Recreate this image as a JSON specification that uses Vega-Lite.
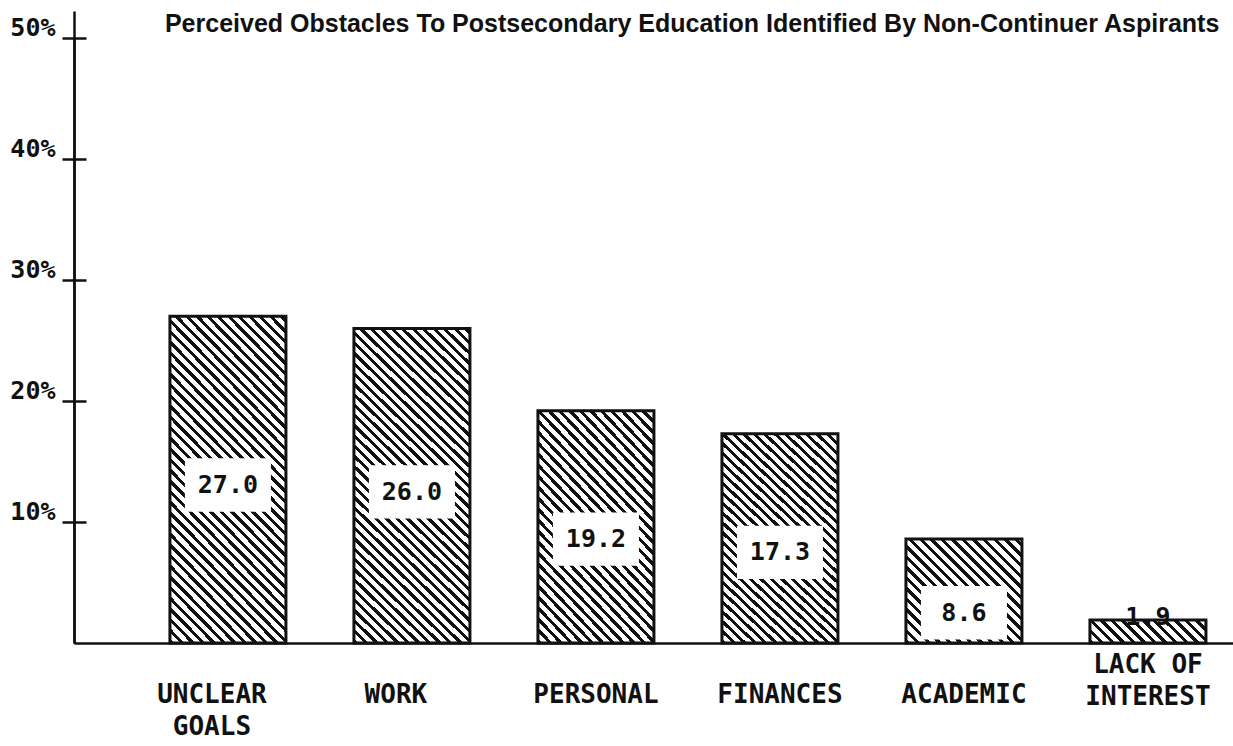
{
  "$schema": "https://vega.github.io/schema/vega-lite/v6.json",
  "width": 1159,
  "height": 605,
  "autosize": {"type": "none"},
  "padding": {"left": 74, "top": 38, "right": 0, "bottom": 103},
  "background": "white",
  "config": {"view": {"stroke": null}, "axis": {"grid": false}},
  "data": {"values": [
    {"obstacle": "UNCLEAR GOALS", "pct": 27.0},
    {"obstacle": "WORK", "pct": 26.0},
    {"obstacle": "PERSONAL", "pct": 19.2},
    {"obstacle": "FINANCES", "pct": 17.3},
    {"obstacle": "ACADEMIC", "pct": 8.6},
    {"obstacle": "LACK OF INTEREST", "pct": 1.9}
  ]},
  "encoding": {
    "x": {
      "field": "obstacle", "type": "nominal",
      "scale": {"domain": ["UNCLEAR GOALS", "WORK", "PERSONAL", "FINANCES", "ACADEMIC", "LACK OF INTEREST"], "paddingInner": 0.3696, "paddingOuter": 0.3342, "align": 0.78},
      "axis": {
        "title": null, "domainColor": "#111", "domainWidth": 2.5, "ticks": false,
        "labelPadding": {"condition": {"test": "datum.value === 'LACK OF INTEREST'", "value": 8}, "value": 38},
        "labelOffset": {"condition": {"test": "datum.value === 'UNCLEAR GOALS' || datum.value === 'WORK'", "value": -16}, "value": 0},
        "labelFont": "DejaVu Sans Mono", "labelFontWeight": "bold", "labelFontSize": 26, "labelColor": "#111",
        "labelAngle": 0, "labelLineHeight": 32, "labelOverlap": false, "labelLimit": 300, "labelBaseline": "top",
        "labelExpr": "datum.value === 'UNCLEAR GOALS' ? ['UNCLEAR','GOALS'] : datum.value === 'LACK OF INTEREST' ? ['LACK OF','INTEREST'] : datum.label"
      }
    }
  },
  "layer": [
    {
      "encoding": {
        "y": {
          "field": "pct", "type": "quantitative", "scale": {"domain": [0, 50], "nice": false},
          "axis": {
            "values": [10, 20, 30, 40, 50], "labelExpr": "datum.value + '%'", "title": null,
            "domainColor": "#111", "domainWidth": 2.5, "tickColor": "#111", "tickWidth": 2.5, "tickSize": 12,
            "labelPadding": 7, "labelFont": "DejaVu Sans Mono", "labelFontWeight": "bold", "labelFontSize": 25,
            "labelColor": "#111", "labelBaseline": "alphabetic", "labelOffset": -3
          }
        }
      },
      "layer": [
        {
          "transform": [{"filter": {"field": "obstacle", "oneOf": ["UNCLEAR GOALS", "WORK"]}}],
          "mark": {"type": "bar", "stroke": "#111", "strokeWidth": 3, "fill": {"gradient": "linear", "x1": 0, "y1": 1, "x2": 0.435, "y2": -0.204, "stops": [
            {"offset":0,"color":"#111"},{"offset":0.01,"color":"#111"},{"offset":0.01,"color":"#fff"},{"offset":0.024,"color":"#fff"},
            {"offset":0.024,"color":"#111"},{"offset":0.034,"color":"#111"},{"offset":0.034,"color":"#fff"},{"offset":0.048,"color":"#fff"},
            {"offset":0.048,"color":"#111"},{"offset":0.058,"color":"#111"},{"offset":0.058,"color":"#fff"},{"offset":0.072,"color":"#fff"},
            {"offset":0.072,"color":"#111"},{"offset":0.082,"color":"#111"},{"offset":0.082,"color":"#fff"},{"offset":0.096,"color":"#fff"},
            {"offset":0.096,"color":"#111"},{"offset":0.106,"color":"#111"},{"offset":0.106,"color":"#fff"},{"offset":0.12,"color":"#fff"},
            {"offset":0.12,"color":"#111"},{"offset":0.13,"color":"#111"},{"offset":0.13,"color":"#fff"},{"offset":0.144,"color":"#fff"},
            {"offset":0.144,"color":"#111"},{"offset":0.154,"color":"#111"},{"offset":0.154,"color":"#fff"},{"offset":0.168,"color":"#fff"},
            {"offset":0.168,"color":"#111"},{"offset":0.178,"color":"#111"},{"offset":0.178,"color":"#fff"},{"offset":0.192,"color":"#fff"},
            {"offset":0.192,"color":"#111"},{"offset":0.202,"color":"#111"},{"offset":0.202,"color":"#fff"},{"offset":0.216,"color":"#fff"},
            {"offset":0.216,"color":"#111"},{"offset":0.226,"color":"#111"},{"offset":0.226,"color":"#fff"},{"offset":0.24,"color":"#fff"},
            {"offset":0.24,"color":"#111"},{"offset":0.25,"color":"#111"},{"offset":0.25,"color":"#fff"},{"offset":0.264,"color":"#fff"},
            {"offset":0.264,"color":"#111"},{"offset":0.274,"color":"#111"},{"offset":0.274,"color":"#fff"},{"offset":0.288,"color":"#fff"},
            {"offset":0.288,"color":"#111"},{"offset":0.298,"color":"#111"},{"offset":0.298,"color":"#fff"},{"offset":0.312,"color":"#fff"},
            {"offset":0.312,"color":"#111"},{"offset":0.322,"color":"#111"},{"offset":0.322,"color":"#fff"},{"offset":0.336,"color":"#fff"},
            {"offset":0.336,"color":"#111"},{"offset":0.346,"color":"#111"},{"offset":0.346,"color":"#fff"},{"offset":0.36,"color":"#fff"},
            {"offset":0.36,"color":"#111"},{"offset":0.37,"color":"#111"},{"offset":0.37,"color":"#fff"},{"offset":0.384,"color":"#fff"},
            {"offset":0.384,"color":"#111"},{"offset":0.394,"color":"#111"},{"offset":0.394,"color":"#fff"},{"offset":0.408,"color":"#fff"},
            {"offset":0.408,"color":"#111"},{"offset":0.418,"color":"#111"},{"offset":0.418,"color":"#fff"},{"offset":0.432,"color":"#fff"},
            {"offset":0.432,"color":"#111"},{"offset":0.442,"color":"#111"},{"offset":0.442,"color":"#fff"},{"offset":0.456,"color":"#fff"},
            {"offset":0.456,"color":"#111"},{"offset":0.466,"color":"#111"},{"offset":0.466,"color":"#fff"},{"offset":0.48,"color":"#fff"},
            {"offset":0.48,"color":"#111"},{"offset":0.49,"color":"#111"},{"offset":0.49,"color":"#fff"},{"offset":0.504,"color":"#fff"},
            {"offset":0.504,"color":"#111"},{"offset":0.514,"color":"#111"},{"offset":0.514,"color":"#fff"},{"offset":0.528,"color":"#fff"},
            {"offset":0.528,"color":"#111"},{"offset":0.538,"color":"#111"},{"offset":0.538,"color":"#fff"},{"offset":0.552,"color":"#fff"},
            {"offset":0.552,"color":"#111"},{"offset":0.562,"color":"#111"},{"offset":0.562,"color":"#fff"},{"offset":0.576,"color":"#fff"},
            {"offset":0.576,"color":"#111"},{"offset":0.586,"color":"#111"},{"offset":0.586,"color":"#fff"},{"offset":0.6,"color":"#fff"},
            {"offset":0.6,"color":"#111"},{"offset":0.61,"color":"#111"},{"offset":0.61,"color":"#fff"},{"offset":0.624,"color":"#fff"},
            {"offset":0.624,"color":"#111"},{"offset":0.634,"color":"#111"},{"offset":0.634,"color":"#fff"},{"offset":0.648,"color":"#fff"},
            {"offset":0.648,"color":"#111"},{"offset":0.658,"color":"#111"},{"offset":0.658,"color":"#fff"},{"offset":0.672,"color":"#fff"},
            {"offset":0.672,"color":"#111"},{"offset":0.682,"color":"#111"},{"offset":0.682,"color":"#fff"},{"offset":0.696,"color":"#fff"},
            {"offset":0.696,"color":"#111"},{"offset":0.706,"color":"#111"},{"offset":0.706,"color":"#fff"},{"offset":0.72,"color":"#fff"},
            {"offset":0.72,"color":"#111"},{"offset":0.73,"color":"#111"},{"offset":0.73,"color":"#fff"},{"offset":0.744,"color":"#fff"},
            {"offset":0.744,"color":"#111"},{"offset":0.754,"color":"#111"},{"offset":0.754,"color":"#fff"},{"offset":0.768,"color":"#fff"},
            {"offset":0.768,"color":"#111"},{"offset":0.778,"color":"#111"},{"offset":0.778,"color":"#fff"},{"offset":0.792,"color":"#fff"},
            {"offset":0.792,"color":"#111"},{"offset":0.802,"color":"#111"},{"offset":0.802,"color":"#fff"},{"offset":0.816,"color":"#fff"},
            {"offset":0.816,"color":"#111"},{"offset":0.826,"color":"#111"},{"offset":0.826,"color":"#fff"},{"offset":0.84,"color":"#fff"},
            {"offset":0.84,"color":"#111"},{"offset":0.85,"color":"#111"},{"offset":0.85,"color":"#fff"},{"offset":0.864,"color":"#fff"},
            {"offset":0.864,"color":"#111"},{"offset":0.874,"color":"#111"},{"offset":0.874,"color":"#fff"},{"offset":0.888,"color":"#fff"},
            {"offset":0.888,"color":"#111"},{"offset":0.898,"color":"#111"},{"offset":0.898,"color":"#fff"},{"offset":0.912,"color":"#fff"},
            {"offset":0.912,"color":"#111"},{"offset":0.922,"color":"#111"},{"offset":0.922,"color":"#fff"},{"offset":0.936,"color":"#fff"},
            {"offset":0.936,"color":"#111"},{"offset":0.946,"color":"#111"},{"offset":0.946,"color":"#fff"},{"offset":0.96,"color":"#fff"},
            {"offset":0.96,"color":"#111"},{"offset":0.97,"color":"#111"},{"offset":0.97,"color":"#fff"},{"offset":0.984,"color":"#fff"},
            {"offset":0.984,"color":"#111"},{"offset":0.994,"color":"#111"},{"offset":0.994,"color":"#fff"},{"offset":1,"color":"#fff"}
          ]}}
        },
        {
          "transform": [{"filter": {"field": "obstacle", "oneOf": ["PERSONAL", "FINANCES"]}}],
          "mark": {"type": "bar", "stroke": "#111", "strokeWidth": 3, "fill": {"gradient": "linear", "x1": 0, "y1": 1, "x2": 0.628, "y2": -0.195, "stops": [
            {"offset":0,"color":"#111"},{"offset":0.013,"color":"#111"},{"offset":0.013,"color":"#fff"},{"offset":0.031,"color":"#fff"},
            {"offset":0.031,"color":"#111"},{"offset":0.044,"color":"#111"},{"offset":0.044,"color":"#fff"},{"offset":0.062,"color":"#fff"},
            {"offset":0.062,"color":"#111"},{"offset":0.075,"color":"#111"},{"offset":0.075,"color":"#fff"},{"offset":0.093,"color":"#fff"},
            {"offset":0.093,"color":"#111"},{"offset":0.106,"color":"#111"},{"offset":0.106,"color":"#fff"},{"offset":0.124,"color":"#fff"},
            {"offset":0.124,"color":"#111"},{"offset":0.137,"color":"#111"},{"offset":0.137,"color":"#fff"},{"offset":0.155,"color":"#fff"},
            {"offset":0.155,"color":"#111"},{"offset":0.168,"color":"#111"},{"offset":0.168,"color":"#fff"},{"offset":0.186,"color":"#fff"},
            {"offset":0.186,"color":"#111"},{"offset":0.199,"color":"#111"},{"offset":0.199,"color":"#fff"},{"offset":0.217,"color":"#fff"},
            {"offset":0.217,"color":"#111"},{"offset":0.23,"color":"#111"},{"offset":0.23,"color":"#fff"},{"offset":0.248,"color":"#fff"},
            {"offset":0.248,"color":"#111"},{"offset":0.261,"color":"#111"},{"offset":0.261,"color":"#fff"},{"offset":0.279,"color":"#fff"},
            {"offset":0.279,"color":"#111"},{"offset":0.292,"color":"#111"},{"offset":0.292,"color":"#fff"},{"offset":0.31,"color":"#fff"},
            {"offset":0.31,"color":"#111"},{"offset":0.323,"color":"#111"},{"offset":0.323,"color":"#fff"},{"offset":0.341,"color":"#fff"},
            {"offset":0.341,"color":"#111"},{"offset":0.354,"color":"#111"},{"offset":0.354,"color":"#fff"},{"offset":0.372,"color":"#fff"},
            {"offset":0.372,"color":"#111"},{"offset":0.385,"color":"#111"},{"offset":0.385,"color":"#fff"},{"offset":0.403,"color":"#fff"},
            {"offset":0.403,"color":"#111"},{"offset":0.416,"color":"#111"},{"offset":0.416,"color":"#fff"},{"offset":0.434,"color":"#fff"},
            {"offset":0.434,"color":"#111"},{"offset":0.447,"color":"#111"},{"offset":0.447,"color":"#fff"},{"offset":0.465,"color":"#fff"},
            {"offset":0.465,"color":"#111"},{"offset":0.478,"color":"#111"},{"offset":0.478,"color":"#fff"},{"offset":0.496,"color":"#fff"},
            {"offset":0.496,"color":"#111"},{"offset":0.509,"color":"#111"},{"offset":0.509,"color":"#fff"},{"offset":0.527,"color":"#fff"},
            {"offset":0.527,"color":"#111"},{"offset":0.54,"color":"#111"},{"offset":0.54,"color":"#fff"},{"offset":0.558,"color":"#fff"},
            {"offset":0.558,"color":"#111"},{"offset":0.571,"color":"#111"},{"offset":0.571,"color":"#fff"},{"offset":0.589,"color":"#fff"},
            {"offset":0.589,"color":"#111"},{"offset":0.602,"color":"#111"},{"offset":0.602,"color":"#fff"},{"offset":0.62,"color":"#fff"},
            {"offset":0.62,"color":"#111"},{"offset":0.633,"color":"#111"},{"offset":0.633,"color":"#fff"},{"offset":0.651,"color":"#fff"},
            {"offset":0.651,"color":"#111"},{"offset":0.664,"color":"#111"},{"offset":0.664,"color":"#fff"},{"offset":0.682,"color":"#fff"},
            {"offset":0.682,"color":"#111"},{"offset":0.695,"color":"#111"},{"offset":0.695,"color":"#fff"},{"offset":0.713,"color":"#fff"},
            {"offset":0.713,"color":"#111"},{"offset":0.726,"color":"#111"},{"offset":0.726,"color":"#fff"},{"offset":0.744,"color":"#fff"},
            {"offset":0.744,"color":"#111"},{"offset":0.757,"color":"#111"},{"offset":0.757,"color":"#fff"},{"offset":0.775,"color":"#fff"},
            {"offset":0.775,"color":"#111"},{"offset":0.788,"color":"#111"},{"offset":0.788,"color":"#fff"},{"offset":0.806,"color":"#fff"},
            {"offset":0.806,"color":"#111"},{"offset":0.819,"color":"#111"},{"offset":0.819,"color":"#fff"},{"offset":0.837,"color":"#fff"},
            {"offset":0.837,"color":"#111"},{"offset":0.85,"color":"#111"},{"offset":0.85,"color":"#fff"},{"offset":0.868,"color":"#fff"},
            {"offset":0.868,"color":"#111"},{"offset":0.881,"color":"#111"},{"offset":0.881,"color":"#fff"},{"offset":0.899,"color":"#fff"},
            {"offset":0.899,"color":"#111"},{"offset":0.912,"color":"#111"},{"offset":0.912,"color":"#fff"},{"offset":0.93,"color":"#fff"},
            {"offset":0.93,"color":"#111"},{"offset":0.943,"color":"#111"},{"offset":0.943,"color":"#fff"},{"offset":0.961,"color":"#fff"},
            {"offset":0.961,"color":"#111"},{"offset":0.974,"color":"#111"},{"offset":0.974,"color":"#fff"},{"offset":0.992,"color":"#fff"},
            {"offset":0.992,"color":"#111"},{"offset":1,"color":"#111"}
          ]}}
        },
        {
          "transform": [{"filter": {"field": "obstacle", "equal": "ACADEMIC"}}],
          "mark": {"type": "bar", "stroke": "#111", "strokeWidth": 3, "fill": {"gradient": "linear", "x1": 0, "y1": 1, "x2": 1.051, "y2": 0.057, "stops": [
            {"offset":0,"color":"#111"},{"offset":0.02,"color":"#111"},{"offset":0.02,"color":"#fff"},{"offset":0.048,"color":"#fff"},
            {"offset":0.048,"color":"#111"},{"offset":0.068,"color":"#111"},{"offset":0.068,"color":"#fff"},{"offset":0.096,"color":"#fff"},
            {"offset":0.096,"color":"#111"},{"offset":0.116,"color":"#111"},{"offset":0.116,"color":"#fff"},{"offset":0.144,"color":"#fff"},
            {"offset":0.144,"color":"#111"},{"offset":0.164,"color":"#111"},{"offset":0.164,"color":"#fff"},{"offset":0.192,"color":"#fff"},
            {"offset":0.192,"color":"#111"},{"offset":0.212,"color":"#111"},{"offset":0.212,"color":"#fff"},{"offset":0.24,"color":"#fff"},
            {"offset":0.24,"color":"#111"},{"offset":0.26,"color":"#111"},{"offset":0.26,"color":"#fff"},{"offset":0.288,"color":"#fff"},
            {"offset":0.288,"color":"#111"},{"offset":0.308,"color":"#111"},{"offset":0.308,"color":"#fff"},{"offset":0.336,"color":"#fff"},
            {"offset":0.336,"color":"#111"},{"offset":0.356,"color":"#111"},{"offset":0.356,"color":"#fff"},{"offset":0.384,"color":"#fff"},
            {"offset":0.384,"color":"#111"},{"offset":0.404,"color":"#111"},{"offset":0.404,"color":"#fff"},{"offset":0.432,"color":"#fff"},
            {"offset":0.432,"color":"#111"},{"offset":0.452,"color":"#111"},{"offset":0.452,"color":"#fff"},{"offset":0.48,"color":"#fff"},
            {"offset":0.48,"color":"#111"},{"offset":0.5,"color":"#111"},{"offset":0.5,"color":"#fff"},{"offset":0.528,"color":"#fff"},
            {"offset":0.528,"color":"#111"},{"offset":0.548,"color":"#111"},{"offset":0.548,"color":"#fff"},{"offset":0.576,"color":"#fff"},
            {"offset":0.576,"color":"#111"},{"offset":0.596,"color":"#111"},{"offset":0.596,"color":"#fff"},{"offset":0.624,"color":"#fff"},
            {"offset":0.624,"color":"#111"},{"offset":0.644,"color":"#111"},{"offset":0.644,"color":"#fff"},{"offset":0.672,"color":"#fff"},
            {"offset":0.672,"color":"#111"},{"offset":0.692,"color":"#111"},{"offset":0.692,"color":"#fff"},{"offset":0.72,"color":"#fff"},
            {"offset":0.72,"color":"#111"},{"offset":0.74,"color":"#111"},{"offset":0.74,"color":"#fff"},{"offset":0.768,"color":"#fff"},
            {"offset":0.768,"color":"#111"},{"offset":0.788,"color":"#111"},{"offset":0.788,"color":"#fff"},{"offset":0.816,"color":"#fff"},
            {"offset":0.816,"color":"#111"},{"offset":0.836,"color":"#111"},{"offset":0.836,"color":"#fff"},{"offset":0.864,"color":"#fff"},
            {"offset":0.864,"color":"#111"},{"offset":0.884,"color":"#111"},{"offset":0.884,"color":"#fff"},{"offset":0.912,"color":"#fff"},
            {"offset":0.912,"color":"#111"},{"offset":0.932,"color":"#111"},{"offset":0.932,"color":"#fff"},{"offset":0.96,"color":"#fff"},
            {"offset":0.96,"color":"#111"},{"offset":0.98,"color":"#111"},{"offset":0.98,"color":"#fff"},{"offset":1,"color":"#fff"}
          ]}}
        },
        {
          "transform": [{"filter": {"field": "obstacle", "equal": "LACK OF INTEREST"}}],
          "mark": {"type": "bar", "stroke": "#111", "strokeWidth": 3, "fill": {"gradient": "linear", "x1": 0, "y1": 1, "x2": 1.153, "y2": 0.771, "stops": [
            {"offset":0,"color":"#111"},{"offset":0.032,"color":"#111"},{"offset":0.032,"color":"#fff"},{"offset":0.076,"color":"#fff"},
            {"offset":0.076,"color":"#111"},{"offset":0.108,"color":"#111"},{"offset":0.108,"color":"#fff"},{"offset":0.152,"color":"#fff"},
            {"offset":0.152,"color":"#111"},{"offset":0.184,"color":"#111"},{"offset":0.184,"color":"#fff"},{"offset":0.228,"color":"#fff"},
            {"offset":0.228,"color":"#111"},{"offset":0.26,"color":"#111"},{"offset":0.26,"color":"#fff"},{"offset":0.304,"color":"#fff"},
            {"offset":0.304,"color":"#111"},{"offset":0.336,"color":"#111"},{"offset":0.336,"color":"#fff"},{"offset":0.38,"color":"#fff"},
            {"offset":0.38,"color":"#111"},{"offset":0.412,"color":"#111"},{"offset":0.412,"color":"#fff"},{"offset":0.456,"color":"#fff"},
            {"offset":0.456,"color":"#111"},{"offset":0.488,"color":"#111"},{"offset":0.488,"color":"#fff"},{"offset":0.532,"color":"#fff"},
            {"offset":0.532,"color":"#111"},{"offset":0.564,"color":"#111"},{"offset":0.564,"color":"#fff"},{"offset":0.608,"color":"#fff"},
            {"offset":0.608,"color":"#111"},{"offset":0.64,"color":"#111"},{"offset":0.64,"color":"#fff"},{"offset":0.684,"color":"#fff"},
            {"offset":0.684,"color":"#111"},{"offset":0.716,"color":"#111"},{"offset":0.716,"color":"#fff"},{"offset":0.76,"color":"#fff"},
            {"offset":0.76,"color":"#111"},{"offset":0.792,"color":"#111"},{"offset":0.792,"color":"#fff"},{"offset":0.836,"color":"#fff"},
            {"offset":0.836,"color":"#111"},{"offset":0.868,"color":"#111"},{"offset":0.868,"color":"#fff"},{"offset":0.912,"color":"#fff"},
            {"offset":0.912,"color":"#111"},{"offset":0.944,"color":"#111"},{"offset":0.944,"color":"#fff"},{"offset":0.988,"color":"#fff"},
            {"offset":0.988,"color":"#111"},{"offset":1,"color":"#111"}
          ]}}
        },
        {
          "transform": [{"filter": "datum.pct < 5"}],
          "mark": {"type": "text", "font": "DejaVu Sans Mono", "fontWeight": "bold", "fontSize": 25, "fill": "#111", "baseline": "alphabetic", "dy": 5},
          "encoding": {"text": {"field": "pct", "type": "quantitative", "format": ".1f"}}
        },
        {
          "transform": [{"filter": {"field": "obstacle", "equal": "UNCLEAR GOALS"}}],
          "mark": {"type": "text", "align": "left", "baseline": "alphabetic", "dx": -63, "dy": -6, "font": "Liberation Sans", "fontSize": 25, "fontWeight": "bold", "fill": "#111"},
          "encoding": {
            "y": {"datum": 50},
            "text": {"value": "Perceived Obstacles To Postsecondary Education Identified By Non-Continuer Aspirants"}
          }
        }
      ]
    },
    {
      "encoding": {
        "y": {"field": "pct", "type": "quantitative", "scale": {"domain": [4.25, 91.35], "nice": false, "zero": false}, "axis": null}
      },
      "layer": [
        {
          "transform": [{"filter": "datum.pct >= 5"}],
          "mark": {"type": "point", "shape": "M-1,-0.62H1V0.62H-1Z", "filled": true, "fill": "#fff", "opacity": 1, "strokeWidth": 0, "size": 7400}
        },
        {
          "transform": [{"filter": "datum.pct >= 5"}],
          "mark": {"type": "text", "font": "DejaVu Sans Mono", "fontWeight": "bold", "fontSize": 25, "fill": "#111", "baseline": "middle"},
          "encoding": {"text": {"field": "pct", "type": "quantitative", "format": ".1f"}}
        }
      ]
    },
    {
      "mark": {"type": "point", "opacity": 0},
      "encoding": {
        "y": {
          "field": "pct", "type": "quantitative", "scale": {"domain": [0, 52.2], "range": [605, -27], "nice": false},
          "axis": {
            "orient": "right", "offset": -1159, "values": [10, 20, 30, 40, 50], "labels": false,
            "domain": true, "domainColor": "#111", "domainWidth": 2.5,
            "title": null, "tickColor": "#111", "tickWidth": 2.5, "tickSize": 12
          }
        }
      }
    }
  ],
  "resolve": {"scale": {"y": "independent"}}
}
